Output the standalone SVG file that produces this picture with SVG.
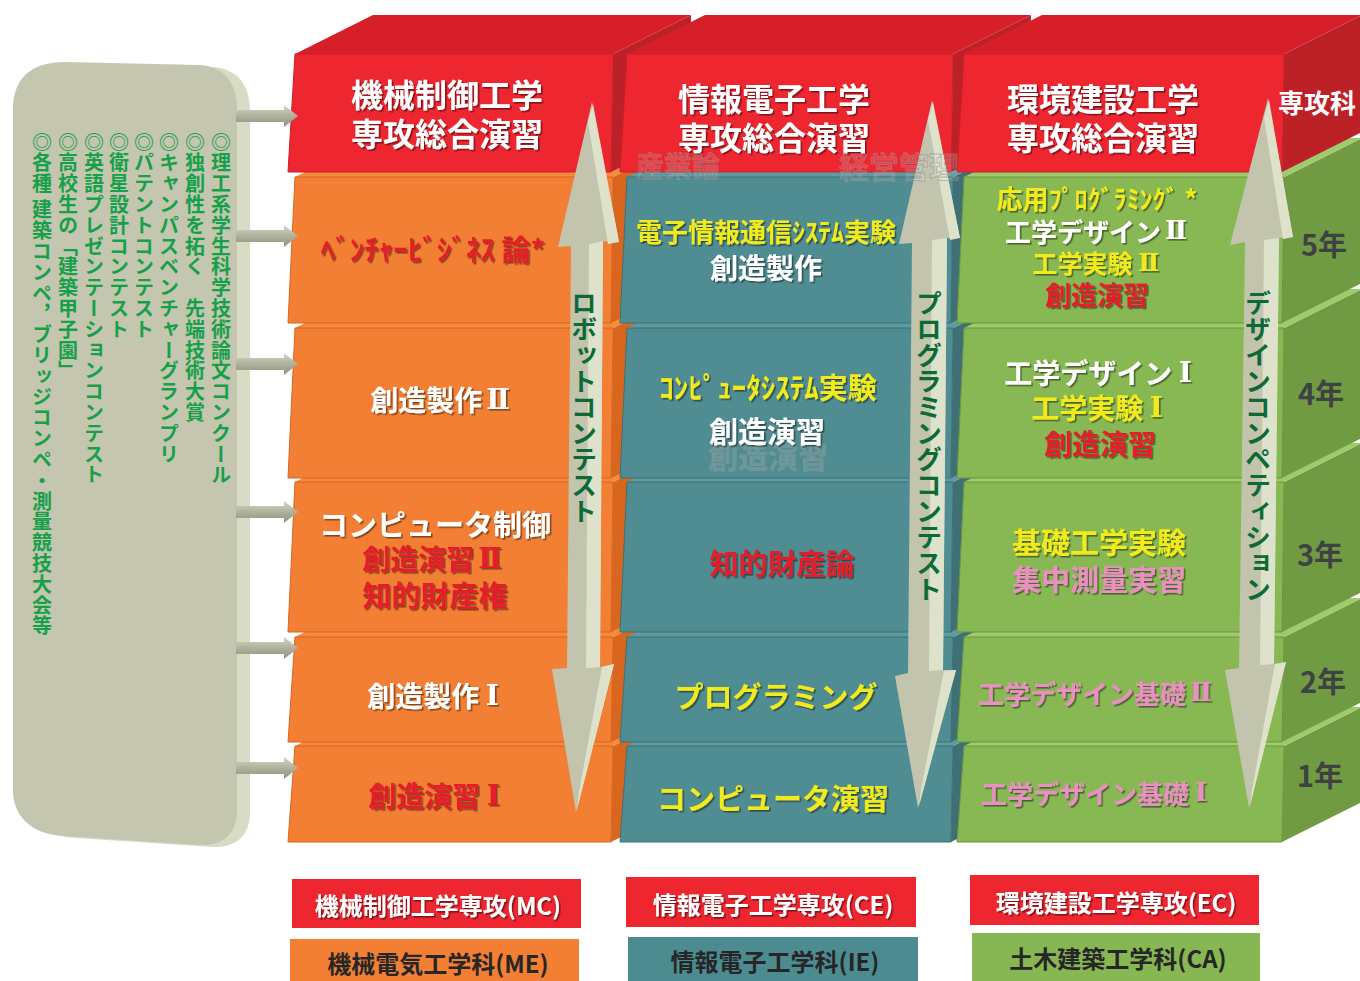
<svg xmlns="http://www.w3.org/2000/svg" width="1360" height="981" viewBox="0 0 1360 981">
<defs>
<filter id="sh" x="-10%" y="-30%" width="125%" height="170%"><feDropShadow dx="1.6" dy="1.6" stdDeviation="0.7" flood-color="#000" flood-opacity="0.45"/></filter>
<linearGradient id="sa" x1="0" y1="0" x2="0" y2="1"><stop offset="0" stop-color="#d6d8c3"/><stop offset="0.45" stop-color="#b3b5a0"/><stop offset="1" stop-color="#8e907e"/></linearGradient>
<style>
.f{font-family:"Noto Sans CJK JP","Noto Sans CJK SC",sans-serif;font-weight:700}
.c{text-anchor:middle;dominant-baseline:central}
.n{font-family:"DejaVu Serif","Liberation Serif",serif;font-weight:700}
.v{writing-mode:vertical-rl;font-size:20px;fill:#17a04a;letter-spacing:0.8px}
.av{writing-mode:vertical-rl;font-size:26px;fill:#0d6a36}
.w{fill:#fff}.y{fill:#f3ea1b}.r{fill:#e61f29}.p{fill:#e98fc1}.k{fill:#262626}
.rf{fill:#ee2630;stroke:#c9202a;stroke-width:1}.rt{fill:#d61f28}.rs{fill:#bc2128}
.of{fill:#f27f33;stroke:#d8651f;stroke-width:1}.ot{fill:#f58a3d}.os{fill:#d9661f}
.tf{fill:#4f8d92;stroke:#3d6f74;stroke-width:1}.tt{fill:#5c9ca1}.ts{fill:#3e7075}
.gf{fill:#87b853;stroke:#6c9540;stroke-width:1}.gt{fill:#a0cb6c}.gs{fill:#709b43}
.am{fill:#c3c4ae}.ah{fill:#dfe2cb}
.sa{fill:url(#sa)}
.gh{fill:#fff;fill-opacity:0.15;stroke:#8c8c8c;stroke-opacity:0.6;stroke-width:0.8}
.yr{font-family:"Noto Sans CJK JP",sans-serif;font-weight:700;font-size:29px;fill:#3e4242;text-anchor:middle;dominant-baseline:central}
</style>
</defs>
<rect width="1360" height="981" fill="#fff"/>

<g id="panel">
<path d="M 26 112 C 26 80 44 64 78 64 L 212 67 C 236 68 250 84 250 110 L 250 812 C 250 836 236 848 212 847 L 76 838 C 44 836 26 818 26 792 Z" fill="#d9dcc4"/>
<path d="M 13 110 C 13 78 31 62 65 62 L 199 65 C 223 66 237 82 237 108 L 237 810 C 237 834 223 846 199 845 L 63 836 C 31 834 13 816 13 790 Z" fill="#c5c6b0"/>
<g class="f">
<text class="v" x="221" y="132">◎理工系学生科学技術論文コンクール</text>
<text class="v" x="195" y="132">◎独創性を拓く　先端技術大賞</text>
<text class="v" x="169" y="132">◎キャンパスベンチャーグランプリ</text>
<text class="v" x="144" y="132">◎パテントコンテスト</text>
<text class="v" x="119" y="132">◎衛星設計コンテスト</text>
<text class="v" x="94" y="132">◎英語プレゼンテーションコンテスト</text>
<text class="v" x="68" y="132">◎高校生の「建築甲子園」</text>
<text class="v" x="42" y="132">◎各種 建築コンペ，ブリッジコンペ・測量競技大会等</text>
</g>
</g>

<!-- Row 1年 -->
<g id="me-1">
<polygon class="os" points="613,746 691,707 689,803 611,842"/>
<polygon class="ot" points="295,746 373,707 691,707 613,746"/>
<polygon class="of" points="295,746 613,746 611,842 288,842"/>
<text class="f c r" x="434" y="795" font-size="28" filter="url(#sh)">創造演習 <tspan class="n">Ⅰ</tspan></text>
</g>
<g id="ie-1">
<polygon class="ts" points="953,746 1031,707 1029,803 951,842"/>
<polygon class="tt" points="627,746 705,707 1031,707 953,746"/>
<polygon class="tf" points="627,746 953,746 951,842 620,842"/>
<text class="f c y" x="773" y="797" font-size="29" filter="url(#sh)">コンピュータ演習</text>
</g>
<g id="ca-1">
<polygon class="gs" points="1284,746 1362,707 1360,803 1282,842"/>
<polygon class="gt" points="964,746 1042,707 1362,707 1284,746"/>
<polygon class="gf" points="964,746 1284,746 1282,842 957,842"/>
<text class="f c p" x="1094" y="792" font-size="26" filter="url(#sh)">工学デザイン基礎 <tspan class="n">Ⅰ</tspan></text>
</g>

<!-- Row 2年 -->
<g id="me-2">
<polygon class="os" points="613,637 691,598 689,703 611,742"/>
<polygon class="ot" points="295,637 373,598 691,598 613,637"/>
<polygon class="of" points="295,637 613,637 611,742 288,742"/>
<text class="f c w" x="433" y="695" font-size="28" filter="url(#sh)">創造製作 <tspan class="n">Ⅰ</tspan></text>
</g>
<g id="ie-2">
<polygon class="ts" points="953,637 1031,598 1029,703 951,742"/>
<polygon class="tt" points="627,637 705,598 1031,598 953,637"/>
<polygon class="tf" points="627,637 953,637 951,742 620,742"/>
<text class="f c y" x="776" y="695" font-size="29" filter="url(#sh)">プログラミング</text>
</g>
<g id="ca-2">
<polygon class="gs" points="1284,637 1362,598 1360,703 1282,742"/>
<polygon class="gt" points="964,637 1042,598 1362,598 1284,637"/>
<polygon class="gf" points="964,637 1284,637 1282,742 957,742"/>
<text class="f c p" x="1095" y="692" font-size="26" filter="url(#sh)">工学デザイン基礎<tspan class="n" dx="4">Ⅱ</tspan></text>
</g>

<!-- Row 3年 -->
<g id="me-3">
<polygon class="os" points="613,482 691,443 689,593 611,632"/>
<polygon class="ot" points="295,482 373,443 691,443 613,482"/>
<polygon class="of" points="295,482 613,482 611,632 288,632"/>
<g filter="url(#sh)">
<text class="f c w" x="435" y="523" font-size="29">コンピュータ制御</text>
<text class="f c r" x="432" y="558" font-size="28">創造演習<tspan class="n" dx="4">Ⅱ</tspan></text>
<text class="f c r" x="435" y="594" font-size="29">知的財産権</text>
</g>
</g>
<g id="ie-3">
<polygon class="ts" points="953,482 1031,443 1029,593 951,632"/>
<polygon class="tt" points="627,482 705,443 1031,443 953,482"/>
<polygon class="tf" points="627,482 953,482 951,632 620,632"/>
<text class="f c r" x="782" y="562" font-size="29" filter="url(#sh)">知的財産論</text>
</g>
<g id="ca-3">
<polygon class="gs" points="1284,482 1362,443 1360,593 1282,632"/>
<polygon class="gt" points="964,482 1042,443 1362,443 1284,482"/>
<polygon class="gf" points="964,482 1284,482 1282,632 957,632"/>
<g filter="url(#sh)">
<text class="f c y" x="1099" y="541" font-size="29">基礎工学実験</text>
<text class="f c p" x="1099" y="578" font-size="29">集中測量実習</text>
</g>
</g>

<!-- Row 4年 -->
<g id="me-4">
<polygon class="os" points="613,328 691,289 689,439 611,478"/>
<polygon class="ot" points="295,328 373,289 691,289 613,328"/>
<polygon class="of" points="295,328 613,328 611,478 288,478"/>
<text class="f c w" x="440" y="399" font-size="28" filter="url(#sh)">創造製作<tspan class="n" dx="4">Ⅱ</tspan></text>
</g>
<g id="ie-4">
<polygon class="ts" points="953,328 1031,289 1029,439 951,478"/>
<polygon class="tt" points="627,328 705,289 1031,289 953,328"/>
<polygon class="tf" points="627,328 953,328 951,478 620,478"/>
<text class="f c gh" x="768" y="455" font-size="30">創造演習</text>
<g filter="url(#sh)">
<text class="f c y" x="768" y="386" font-size="29">ｺﾝﾋﾟｭｰﾀｼｽﾃﾑ実験</text>
<text class="f c w" x="767" y="430" font-size="29">創造演習</text>
</g>
</g>
<g id="ca-4">
<polygon class="gs" points="1284,328 1362,289 1360,439 1282,478"/>
<polygon class="gt" points="964,328 1042,289 1362,289 1284,328"/>
<polygon class="gf" points="964,328 1284,328 1282,478 957,478"/>
<g filter="url(#sh)">
<text class="f c w" x="1098" y="372" font-size="28">工学デザイン <tspan class="n">Ⅰ</tspan></text>
<text class="f c y" x="1097" y="407" font-size="28">工学実験 <tspan class="n">Ⅰ</tspan></text>
<text class="f c r" x="1100" y="443" font-size="28">創造演習</text>
</g>
</g>

<!-- Row 5年 -->
<g id="me-5">
<polygon class="os" points="613,177 691,138 689,284 611,323"/>
<polygon class="ot" points="295,177 373,138 691,138 613,177"/>
<polygon class="of" points="295,177 613,177 611,323 288,323"/>
<text class="f c r" x="433" y="248" font-size="29" filter="url(#sh)">ﾍﾞﾝﾁｬｰﾋﾞｼﾞﾈｽ 論*</text>
</g>
<g id="ie-5">
<polygon class="ts" points="953,177 1031,138 1029,284 951,323"/>
<polygon class="tt" points="627,177 705,138 1031,138 953,177"/>
<polygon class="tf" points="627,177 953,177 951,323 620,323"/>
<g filter="url(#sh)">
<text class="f c y" x="766" y="230" font-size="26">電子情報通信ｼｽﾃﾑ実験</text>
<text class="f c w" x="766" y="267" font-size="28">創造製作</text>
</g>
</g>
<g id="ca-5">
<polygon class="gs" points="1284,177 1362,138 1360,284 1282,323"/>
<polygon class="gt" points="964,177 1042,138 1362,138 1284,177"/>
<polygon class="gf" points="964,177 1284,177 1282,323 957,323"/>
<g filter="url(#sh)">
<text class="f c y" x="1097" y="197" font-size="26">応用ﾌﾟﾛｸﾞﾗﾐﾝｸﾞ *</text>
<text class="f c w" x="1096" y="230" font-size="26">工学デザイン<tspan class="n" dx="4">Ⅱ</tspan></text>
<text class="f c y" x="1096" y="262" font-size="25">工学実験 <tspan class="n">Ⅱ</tspan></text>
<text class="f c r" x="1097" y="293" font-size="26">創造演習</text>
</g>
</g>

<!-- Row 専攻科 -->
<g id="mc">
<polygon class="rs" points="613,54 691,15 689,133 611,172"/>
<polygon class="rt" points="295,54 373,15 691,15 613,54"/>
<polygon class="rf" points="295,54 613,54 611,172 288,172"/>
<g filter="url(#sh)">
<text class="f c w" x="447" y="93" font-size="32">機械制御工学</text>
<text class="f c w" x="447" y="132" font-size="32">専攻総合演習</text>
</g>
</g>
<g id="ce">
<polygon class="rs" points="953,54 1031,15 1029,133 951,172"/>
<polygon class="rt" points="627,54 705,15 1031,15 953,54"/>
<polygon class="rf" points="627,54 953,54 951,172 620,172"/>
<g filter="url(#sh)">
<text class="f c w" x="774" y="97" font-size="32">情報電子工学</text>
<text class="f c w" x="774" y="136" font-size="32">専攻総合演習</text>
</g>
</g>
<g id="ec">
<polygon class="rs" points="1284,54 1362,15 1360,133 1282,172"/>
<polygon class="rt" points="964,54 1042,15 1362,15 1284,54"/>
<polygon class="rf" points="964,54 1284,54 1282,172 957,172"/>
<g filter="url(#sh)">
<text class="f c w" x="1103" y="97" font-size="32">環境建設工学</text>
<text class="f c w" x="1103" y="136" font-size="32">専攻総合演習</text>
</g>
</g>

<g id="years">
<text class="f c w" x="1317" y="101" font-size="26">専攻科</text>
<text class="yr" x="1324" y="243">5年</text>
<text class="yr" x="1321" y="392">4年</text>
<text class="yr" x="1320" y="553">3年</text>
<text class="yr" x="1323" y="680">2年</text>
<text class="yr" x="1320" y="774">1年</text>
</g>

<g id="connectors">
<polygon class="sa" points="236,110 284,110 284,105 298,116 284,127 284,122 236,122"/>
<polygon class="sa" points="236,230 284,230 284,225 298,236 284,247 284,242 236,242"/>
<polygon class="sa" points="236,358 284,358 284,353 298,364 284,375 284,370 236,370"/>
<polygon class="sa" points="236,506 284,506 284,501 298,512 284,523 284,518 236,518"/>
<polygon class="sa" points="236,642 284,642 284,637 298,648 284,659 284,654 236,654"/>
<polygon class="sa" points="236,762 284,762 284,757 298,768 284,779 284,774 236,774"/>

<g id="arrow-robot">
<polygon class="am" points="592,102 619,242 603,241 600,667 614,664 576,812 552,669 567,668 571,246 558,247"/>
<polygon class="ah" points="593,104 619,242 608,244 588,122"/>
<polygon class="ah" points="589,244 603,241 600,667 586,668"/>
<polygon class="ah" points="602,667 614,664 577,810 579,792"/>
<text class="f av" x="584" y="290">ロボットコンテスト</text>
</g>
<g id="arrow-prog">
<polygon class="am" points="932,100 960,238 947,238 943,670 956,670 918,808 895,676 908,673 912,243 899,244"/>
<polygon class="ah" points="933,102 960,238 950,240 928,120"/>
<polygon class="ah" points="932,240 947,238 943,670 929,671"/>
<polygon class="ah" points="944,671 956,670 919,806 921,790"/>
<text class="f av" x="929" y="290">プログラミングコンテスト</text>
</g>
<g id="arrow-design">
<polygon class="am" points="1268,98 1293,237 1279,238 1274,664 1286,662 1249,808 1225,670 1239,668 1245,242 1230,245"/>
<polygon class="ah" points="1269,100 1293,237 1283,239 1264,118"/>
<polygon class="ah" points="1264,240 1279,238 1274,664 1260,665"/>
<polygon class="ah" points="1275,664 1286,662 1250,806 1252,790"/>
<text class="f av" x="1258" y="290">デザインコンペティション</text>
</g>
</g>

<g id="ghost">
<text class="f c gh" x="678" y="165" font-size="28">産業論</text>
<text class="f c gh" x="899" y="165" font-size="30">経営管理</text>
</g>

<g id="legend">
<g id="lg-mc"><rect x="292" y="879" width="289" height="49" fill="#ee2630"/><text class="f c w" x="438" y="904" font-size="24" filter="url(#sh)">機械制御工学専攻(MC)</text></g>
<g id="lg-ce"><rect x="626" y="877" width="290" height="50" fill="#ee2630"/><text class="f c w" x="773" y="903" font-size="24" filter="url(#sh)">情報電子工学専攻(CE)</text></g>
<g id="lg-ec"><rect x="970" y="875" width="289" height="50" fill="#ee2630"/><text class="f c w" x="1116" y="901" font-size="24" filter="url(#sh)">環境建設工学専攻(EC)</text></g>
<g id="lg-me"><rect x="290" y="939" width="289" height="42" fill="#f27f33"/><text class="f c k" x="438" y="962" font-size="24">機械電気工学科(ME)</text></g>
<g id="lg-ie"><rect x="628" y="937" width="290" height="44" fill="#4c8c91"/><text class="f c k" x="775" y="960" font-size="24">情報電子工学科(IE)</text></g>
<g id="lg-ca"><rect x="972" y="933" width="288" height="48" fill="#86b753"/><text class="f c k" x="1118" y="957" font-size="24">土木建築工学科(CA)</text></g>
</g>
</svg>
